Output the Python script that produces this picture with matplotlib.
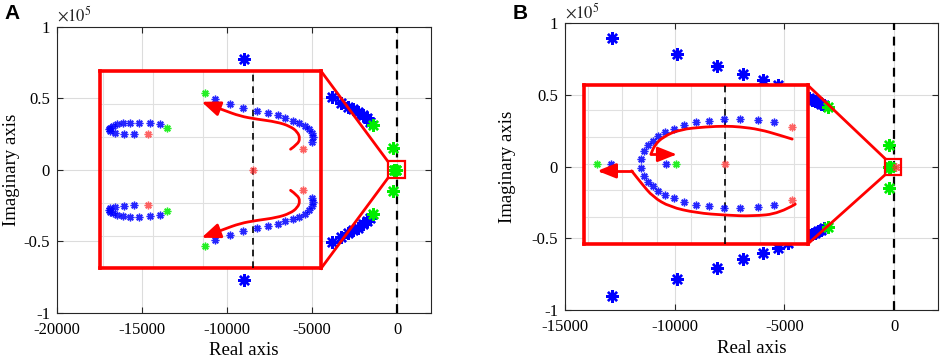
import numpy as np
import matplotlib
matplotlib.use('Agg')
import matplotlib.pyplot as plt
from matplotlib.path import Path
from matplotlib.patches import FancyArrowPatch, Rectangle

plt.rcParams['font.family'] = 'Liberation Serif'
plt.rcParams['mathtext.fontset'] = 'stix'
plt.rcParams['axes.unicode_minus'] = False

# ---------------- panel A : main axis (upper half, conjugates mirrored) ----
a_blue_re = [-9000, -3841, -3312, -2865, -2569, -2276, -1982, -1782, -1588]
a_blue_im = [77500, 50667, 46877, 44070, 42246, 40561, 38246, 35930, 33544]
a_green_re = [-1429, -250, -160, -90]
a_green_im = [31228, 15000, 0, 0]

# panel A : zoomed inset
a_in_left_re = [-211, -239, -259, -276, -286, -289, -287, -281, -273, -261, -247, -229, -207, -187, -173]
a_in_left_im = [1082, 1073, 1091, 1122, 1174, 1226, 1274, 1326, 1378, 1409, 1427, 1427, 1409, 1378, 1256]
a_in_right_re = [99, 117, 119, 117, 111, 103, 92, 79, 64, 49, 29, 7, -21, -47, -76, -96]
a_in_right_im = [625, 848, 982, 1104, 1226, 1335, 1427, 1488, 1561, 1652, 1713, 1784, 1866, 1988, 2149, 2323]
a_in_arrow = [(75, 625), (89, 777), (94, 951), (89, 1152), (74, 1326), (47, 1457),
              (7, 1540), (-26, 1631), (-59, 1814), (-103, 2067)]

# ---------------- panel B : main axis ----
b_blue_re = [-12877, -9877, -8077, -6864, -5986, -5304, -4850,
             -3864, -3727, -3591, -3455, -3318, -3182]
b_blue_im = [90021, 78437, 70482, 64690, 60503, 57013, 53500,
             47733, 46895, 46197, 45150, 44103, 43057]
b_green_re = [-3032, -227, -227, -180]
b_green_im = [41870, 15000, 0, 0]
b_red_re = [105]
b_red_im = [0]

# panel B : zoomed inset
b_in_arc_re = [-246, -237, -225, -212, -197, -176, -149, -120, -86, -48, -4, 44, 95, 143]
b_in_arc_im = [157, 479, 682, 854, 1030, 1168, 1303, 1431, 1543, 1603, 1655, 1655, 1629, 1543]
b_in_arc_red_re = [195]
b_in_arc_red_im = [1356]
b_in_axis_blue = [-334, -174]
b_in_axis_green = [-373, -145]
b_in_upper_curve = [(195, 918), (158, 1067), (100, 1280), (42, 1378), (0, 1404), (-55, 1378),
                    (-133, 1280), (-181, 1004), (-206, 693), (-217, 345)]
b_in_upper_arrow = [(-217, 345), (-142, 345)]
b_in_lower_curve = [(204, -1517), (158, -1865), (80, -1966), (0, -1929), (-84, -1843),
                    (-162, -1618), (-211, -1243), (-244, -742), (-273, -270)]
b_in_lower_arrow = [(-273, -270), (-373, -270)]

STAR = (8, 2, 0)
BLUE, GREEN, RED = '#0000ff', '#00ee00', '#ff0000'


def conj(re, im):
    return list(re) + list(re), list(im) + [-v for v in im]


def smooth_path(pts):
    pts = np.asarray(pts, float)
    verts = [pts[0]]
    codes = [Path.MOVETO]
    for i in range(1, len(pts) - 1):
        verts += [pts[i], (pts[i] + pts[i + 1]) / 2]
        codes += [Path.CURVE3, Path.CURVE3]
    verts.append(pts[-1])
    codes.append(Path.LINETO)
    return Path(verts, codes)


def red_arrow(ax, pts, head=True):
    style = '-|>,head_length=0.8,head_width=0.32' if head else '-'
    p = FancyArrowPatch(path=smooth_path(pts), arrowstyle=style, mutation_scale=14,
                        color=RED, lw=2, zorder=6)
    ax.add_patch(p)


def stars(ax, re, im, color, ms, mew, alpha=1.0):
    ax.plot(re, im, linestyle='none', marker=STAR, ms=ms, mew=mew,
            mec=color, mfc=color, alpha=alpha, zorder=4)


def style_main(ax, xticks, xlim):
    ax.set_xlim(xlim)
    ax.set_ylim(-1e5, 1e5)
    ax.set_xticks(xticks)
    ax.set_xticklabels([str(t) for t in xticks])
    ax.set_yticks([-1e5, -0.5e5, 0, 0.5e5, 1e5])
    ax.set_yticklabels(['-1', '-0.5', '0', '0.5', '1'])
    ax.tick_params(direction='in', top=True, right=True, labelsize=12, length=4,
                   color='#262626', pad=5)
    ax.tick_params(axis='x', pad=6.5)
    for s in ax.spines.values():
        s.set_color('#262626')
        s.set_linewidth(0.8)
    ax.grid(True, color='#dcdcdc', lw=0.8)
    ax.set_axisbelow(True)
    ax.axvline(0, color='k', ls='--', lw=1.6, dashes=(4, 3), zorder=3)
    ax.set_xlabel('Real axis', fontsize=13.5)
    ax.set_ylabel('Imaginary axis', fontsize=13.5)
    ax.text(0, 1.005, r'$\times10^{5}$', transform=ax.transAxes, ha='left', va='bottom',
            fontsize=12, color='#262626')


def make_inset(ax, bounds, xlim, ylim, xticks, yticks):
    ins = ax.inset_axes(bounds, transform=ax.transData, zorder=5)
    ins.set_xlim(xlim)
    ins.set_ylim(ylim)
    ins.set_xticks(xticks)
    ins.set_yticks(yticks)
    ins.tick_params(length=0, labelbottom=False, labelleft=False)
    ins.grid(True, color='#e0e0e0', lw=0.8)
    ins.set_axisbelow(True)
    for s in ins.spines.values():
        s.set_color(RED)
        s.set_linewidth(2.6)
    ins.axvline(0, color='k', ls='--', lw=1.2, dashes=(4, 3), zorder=3)
    return ins


fig = plt.figure(figsize=(9.41, 3.6), dpi=100)
axA = fig.add_axes([0.0606, 0.1319, 0.3975, 0.793])
axB = fig.add_axes([0.6004, 0.1389, 0.3964, 0.796])

# ---------------- panel A ----------------
style_main(axA, [-20000, -15000, -10000, -5000, 0], (-20000, 2000))
stars(axA, *conj(a_blue_re, a_blue_im), BLUE, 9, 1.7)
stars(axA, *conj(a_green_re, a_green_im), GREEN, 9, 1.7)
axA.add_patch(Rectangle((-550, -6000), 1000, 12000, fill=False, ec=RED, lw=1.6, zorder=5))
axA.plot([-4470, -550], [69100, 6000], color=RED, lw=2, zorder=5)
axA.plot([-4470, -550], [-69100, -6000], color=RED, lw=2, zorder=5)
axA.yaxis.set_label_coords(-0.1, 0.5)
axA.xaxis.set_label_coords(0.5, -0.105)

insA = make_inset(axA, [-17470, -69100, 13000, 138200], (-306, 136), (-3000, 3000),
                  [-300, -200, -100, 0, 100], [-2000, -1000, 0, 1000, 2000])
stars(insA, *conj(a_in_left_re[1:-1], a_in_left_im[1:-1]), BLUE, 5.5, 1, 0.85)
stars(insA, *conj(a_in_right_re[1:-1], a_in_right_im[1:-1]), BLUE, 5.5, 1, 0.85)
stars(insA, *conj(a_in_left_re[-1:] + a_in_right_re[-1:], a_in_left_im[-1:] + a_in_right_im[-1:]),
      GREEN, 5.5, 1, 0.85)
stars(insA, *conj(a_in_left_re[:1] + a_in_right_re[:1], a_in_left_im[:1] + a_in_right_im[:1]),
      '#ff3030', 5.5, 1, 0.75)
stars(insA, [0], [0], '#ff3030', 5.5, 1, 0.75)
red_arrow(insA, a_in_arrow)
red_arrow(insA, [(x, -y) for x, y in a_in_arrow])

# ---------------- panel B ----------------
style_main(axB, [-15000, -10000, -5000, 0], (-15000, 2000))
stars(axB, *conj(b_blue_re, b_blue_im), BLUE, 9, 1.7)
stars(axB, *conj(b_green_re, b_green_im), GREEN, 9, 1.7)
stars(axB, b_red_re, b_red_im, '#ff3030', 6, 1, 0.8)
axB.add_patch(Rectangle((-400, -5500), 700, 11000, fill=False, ec=RED, lw=1.6, zorder=5))
axB.plot([-3941, -400], [57000, 5500], color=RED, lw=2, zorder=5)
axB.plot([-3941, -400], [-54000, -5500], color=RED, lw=2, zorder=5)
axB.yaxis.set_label_coords(-0.13, 0.5)
axB.xaxis.set_label_coords(0.5, -0.105)

insB = make_inset(axB, [-14120, -54000, 10180, 111000], (-411, 240), (-3010, 2940),
                  [-400, -300, -200, -100, 0, 100, 200], [-2000, -1000, 0, 1000, 2000])
stars(insB, *conj(b_in_arc_re, b_in_arc_im), BLUE, 5.5, 1, 0.85)
stars(insB, b_in_axis_blue, [0, 0], BLUE, 5.5, 1, 0.85)
stars(insB, b_in_axis_green, [0, 0], GREEN, 5.5, 1, 0.85)
stars(insB, *conj(b_in_arc_red_re, b_in_arc_red_im), '#ff3030', 5.5, 1, 0.75)
stars(insB, [0], [0], '#ff3030', 5.5, 1, 0.75)
red_arrow(insB, b_in_upper_curve, head=False)
red_arrow(insB, b_in_upper_arrow)
red_arrow(insB, b_in_lower_curve, head=False)
red_arrow(insB, b_in_lower_arrow)

fig.text(0.005, 0.962, 'A', fontfamily='Liberation Sans', fontweight='bold', fontsize=15, va='center')
fig.text(0.545, 0.962, 'B', fontfamily='Liberation Sans', fontweight='bold', fontsize=15, va='center')

fig.savefig('out.png', dpi=100)
